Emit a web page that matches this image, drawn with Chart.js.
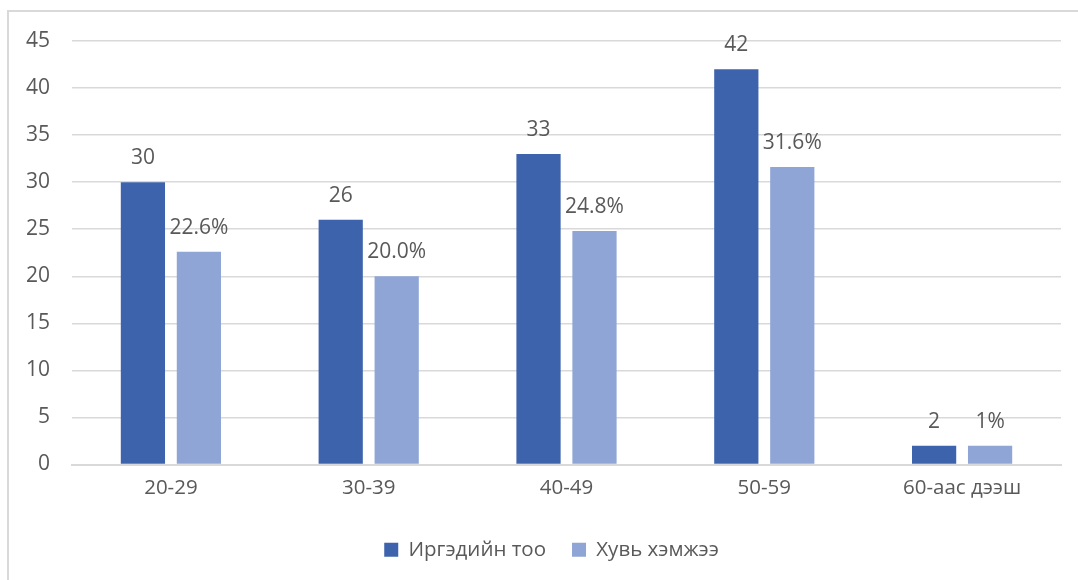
<!DOCTYPE html>
<html>
<head>
<meta charset="utf-8">
<script src="https://cdn.jsdelivr.net/npm/chart.js@4/dist/chart.umd.min.js"></script>
<style>
    html, body {margin: 0; padding: 0; background: #fff;}
    #frame {position: absolute; left: 7px; top: 10px; width: 1200px; height: 700px; border: 2px solid #d9d9d9;}
    #wrap {position: absolute; left: 0; top: 0; width: 1078px; height: 580px;}
</style>
</head>
<body>
<div id="frame"></div>
<div id="wrap"><canvas id="chart" width="1078" height="580"></canvas></div>
<script>
const categories = ['20-29', '30-39', '40-49', '50-59', '60-аас дээш'];
const countValues = [30, 26, 33, 42, 2];
const percentValues = [22.6, 20.0, 24.8, 31.6, 2];
const percentLabels = ['22.6%', '20.0%', '24.8%', '31.6%', '1%'];
const yTicks = [0, 5, 10, 15, 20, 25, 30, 35, 40, 45];

const textColor = '#595959';
const fontFamily = '"Open Sans", "Noto Sans", sans-serif';

// draws the value above each bar, like Excel's "outside end" labels
const barLabels = {
    id: 'barLabels',
    afterDatasetsDraw(chart) {
        const ctx = chart.ctx;
        ctx.save();
        ctx.fillStyle = textColor;
        ctx.font = '21px ' + fontFamily;
        ctx.textAlign = 'center';
        ctx.textBaseline = 'middle';
        chart.data.datasets.forEach((ds, i) => {
            chart.getDatasetMeta(i).data.forEach((bar, j) => {
                ctx.fillText(ds.valueLabels[j], bar.x, bar.y - 24);
            });
        });
        ctx.restore();
    }
};

// excel centres the legend a bit to the right of the canvas middle
const legendShift = {
    id: 'legendShift',
    afterLayout(chart) {
        if (chart.legend) {
            chart.legend.left += 21;
            chart.legend.right += 21;
        }
    }
};

new Chart(document.getElementById('chart').getContext('2d'), {
    type: 'bar',
    data: {
        labels: categories,
        datasets: [{
            label: 'Иргэдийн тоо',
            data: countValues,
            valueLabels: countValues.map(String),
            backgroundColor: '#3D63AD',
        }, {
            label: 'Хувь хэмжээ',
            data: percentValues,
            valueLabels: percentLabels,
            backgroundColor: '#8FA5D6',
        }]
    },
    options: {
        responsive: false,
        animation: false,
        devicePixelRatio: 1,
        layout: {padding: {top: 41, right: 17, bottom: 10, left: 0}},
        datasets: {bar: {categoryPercentage: 0.566, barPercentage: 0.79}},
        plugins: {
            legend: {
                position: 'bottom',
                labels: {
                    color: textColor,
                    font: {family: fontFamily, size: 20.5},
                    boxWidth: 14,
                    boxHeight: 14,
                    padding: 26
                }
            },
            tooltip: {enabled: false}
        },
        scales: {
            x: {
                grid: {display: false},
                border: {display: true, color: '#d9d9d9', width: 2},
                ticks: {color: textColor, font: {family: fontFamily, size: 20.5}, padding: 3},
                afterFit: (scale) => { scale.height = 49; }
            },
            y: {
                min: 0,
                max: 45,
                afterBuildTicks: (scale) => { scale.ticks = yTicks.map(v => ({value: v})); },
                grid: {color: '#d9d9d9', lineWidth: 1.5, drawTicks: false},
                border: {display: false},
                ticks: {color: textColor, font: {family: fontFamily, size: 21}, padding: 22},
                afterFit: (scale) => { scale.width = 72; }
            }
        }
    },
    plugins: [barLabels, legendShift]
});
</script>
</body>
</html>
